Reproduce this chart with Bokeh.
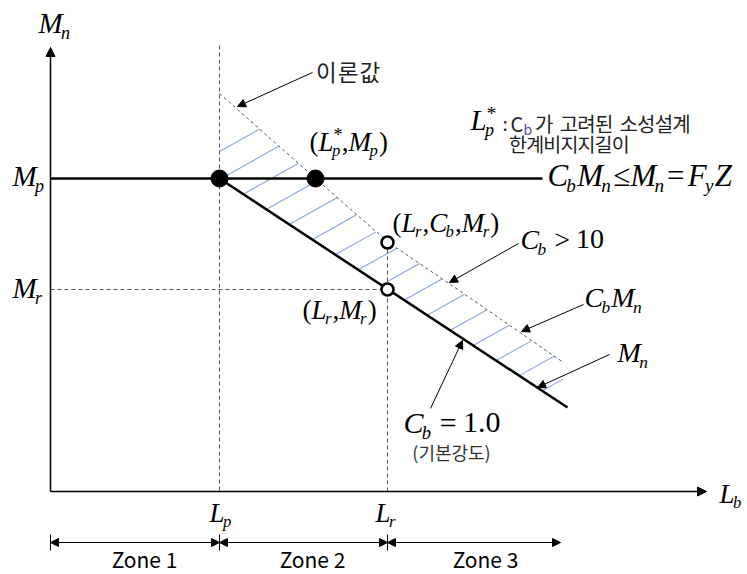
import numpy as np
from bokeh.plotting import figure
from bokeh.models import Range1d, Arrow, NormalHead
from bokeh.core.properties import value
from bokeh.embed import file_html
from bokeh.resources import INLINE

# ---- diagram key values (diagram units) ----
AXIS_X0, AXIS_Y0 = 50, 491
AXIS_X_END, AXIS_Y_END = 706, 47
LP, LP_STAR, LR = 219, 315, 387
MP, MR = 178, 289
MP_LINE_END = 542
MN_X = [219, 567]
MN_Y = [178, 407]
CBMN_X = [219, 315, 388, 450, 563]
CBMN_Y = [93, 178, 242, 284, 362]
LP_TOP = 45
ZONE_EDGES = [50, 219, 387, 560]
ZONE_LABELS = ["Zone 1", "Zone 2", "Zone 3"]
ZONE_LABEL_X = [144, 312, 485]
ZONE_Y = 542
HATCH_C = list(range(151, 580, 28))
HATCH_SLOPE = -0.56

SERIF = value("Liberation Serif")
SANS = value("Noto Sans CJK KR")

p = figure(width=747, height=574, output_backend="svg", toolbar_location=None,
           x_range=Range1d(0, 747), y_range=Range1d(574, 0), min_border=0)
p.axis.visible = False
p.grid.visible = False
p.outline_line_color = None
p.background_fill_color = "white"

# ---- hatch between Mn and CbMn ----
xs_f = np.arange(LP, MN_X[1] + 0.01, 0.25)
mn_f = np.interp(xs_f, MN_X, MN_Y)
cb_f = np.interp(xs_f, CBMN_X, CBMN_Y)
valid = xs_f <= CBMN_X[-1]
hx, hy = [], []
for c in HATCH_C:
    yy = c + HATCH_SLOPE * (xs_f - LP)
    inside = valid & (yy >= cb_f) & (yy <= mn_f)
    if inside.sum() < 2:
        continue
    xi = xs_f[inside]
    x0, x1 = xi.min(), xi.max()
    hx.append([x0, x1])
    hy.append([c + HATCH_SLOPE * (x0 - LP), c + HATCH_SLOPE * (x1 - LP)])
p.multi_line(hx, hy, line_color="#86a9d6", line_width=1.1)

# ---- axes ----
p.add_layout(Arrow(end=NormalHead(size=9, fill_color="black", line_color="black"),
                   x_start=AXIS_X0, y_start=AXIS_Y0, x_end=AXIS_X0, y_end=AXIS_Y_END,
                   line_width=1.5, line_color="black"))
p.add_layout(Arrow(end=NormalHead(size=9, fill_color="black", line_color="black"),
                   x_start=AXIS_X0, y_start=AXIS_Y0, x_end=AXIS_X_END, y_end=AXIS_Y0,
                   line_width=1.5, line_color="black"))

# ---- dashed guides ----
dash = "4 3"
p.line([LP, LP], [LP_TOP, AXIS_Y0], line_dash=dash, line_color="#555555", line_width=1)
p.line([LR, LR], [CBMN_Y[2], AXIS_Y0], line_dash=dash, line_color="#555555", line_width=1)
p.line([AXIS_X0, LR], [MR, MR], line_dash=dash, line_color="#555555", line_width=1)
p.line(CBMN_X, CBMN_Y, line_dash="3 3", line_color="#555555", line_width=1)

# ---- main lines ----
p.line([AXIS_X0, MP_LINE_END], [MP, MP], line_color="black", line_width=2.5)
p.line(MN_X, MN_Y, line_color="black", line_width=2.5)

# ---- points ----
p.scatter([LP, LP_STAR], [MP, MP], size=17, fill_color="black", line_color="black")
p.scatter([LR, LR], [CBMN_Y[2], MR], size=12, fill_color="white", line_color="black", line_width=2.5)

# ---- pointer arrows ----
def ptr(x0, y0, x1, y1):
    p.add_layout(Arrow(end=NormalHead(size=8, fill_color="black", line_color="black"),
                       x_start=x0, y_start=y0, x_end=x1, y_end=y1,
                       line_width=1, line_color="black"))

ptr(312, 72, 237, 106)
ptr(518, 243, 449, 282)
ptr(583, 304, 521, 331)
ptr(609, 354, 537, 387)
ptr(430, 408, 462, 340)

# ---- zone arrows ----
for a, b in zip(ZONE_EDGES[:-1], ZONE_EDGES[1:]):
    p.add_layout(Arrow(start=NormalHead(size=8, fill_color="black", line_color="black"),
                       end=NormalHead(size=8, fill_color="black", line_color="black"),
                       x_start=a, y_start=ZONE_Y, x_end=b, y_end=ZONE_Y,
                       line_width=1.2, line_color="black"))
for e in ZONE_EDGES[:-1]:
    p.line([e, e], [ZONE_Y - 8, ZONE_Y + 8], line_color="black", line_width=1)


def ktext(x, y, t, size, align="left", color="#222222"):
    # y is the baseline; draw with middle anchoring
    p.text([x], [y - 0.36 * size], text=[t], text_font=SANS, text_font_size=f"{size:.1f}px",
           text_align=align, text_baseline="middle", text_color=color)


def kspaced(x, y, t, size, adv, space, color="#222222"):
    # place syllables one by one with a fixed advance (wider Korean spacing)
    cx = x
    for ch in t:
        if ch == " ":
            cx += space
            continue
        ktext(cx + adv / 2, y, ch, size, align="center", color=color)
        cx += adv


for xc, lab in zip(ZONE_LABEL_X, ZONE_LABELS):
    ktext(xc, 566, lab, 21, align="center", color="black")

# ---- math text helper ----
W = {'M': 0.833, 'n': 0.5, 'p': 0.5, 'L': 0.556, 'C': 0.667, 'b': 0.5, 'r': 0.389,
     'F': 0.611, 'y': 0.444, 'Z': 0.556, '(': 0.333, ')': 0.333, ',': 0.25, '*': 0.5,
     '≤': 0.549, '=': 0.675, '>': 0.675, '1': 0.5, '.': 0.25, '0': 0.5, ' ': 0.25}

def tw(s, size):
    return sum(W.get(ch, 0.5) for ch in s) * size

def put(x, y, t, size, italic=True, color="black"):
    p.text([x], [y - 0.33 * size], text=[t], text_font=SERIF, text_font_size=f"{size:.1f}px",
           text_font_style="italic" if italic else "normal",
           text_align="left", text_baseline="middle", text_color=color)

def math(x, y, parts, size):
    cx = x
    ss = size * 0.62
    for part in parts:
        kind, t = part[0], part[1]
        gap = part[2] if len(part) > 2 else 0
        cx += gap * size
        if kind == 'i':
            put(cx, y, t, size)
            cx += tw(t, size)
        elif kind == 'u':
            put(cx, y, t, size, italic=False)
            cx += tw(t, size)
        elif kind == 's':
            put(cx - 0.06 * size, y + 0.22 * size, t, ss)
            cx += tw(t, ss) - 0.02 * size
        elif kind == 'ss':
            sup, sub = t
            put(cx, y - 0.36 * size, sup, ss * 1.1, italic=False)
            put(cx - 0.06 * size, y + 0.22 * size, sub, ss)
            cx += max(tw(sup, ss), tw(sub, ss))

math(38, 32, [('i', 'M'), ('s', 'n')], 29)
math(12, 185, [('i', 'M'), ('s', 'p')], 29)
math(12, 297, [('i', 'M'), ('s', 'r')], 29)
math(309, 150, [('u', '('), ('i', 'L'), ('ss', ('*', 'p')), ('u', ','), ('i', 'M'), ('s', 'p'), ('u', ')')], 27)
math(470, 129, [('i', 'L'), ('ss', ('*', 'p'))], 29)
math(547, 185, [('i', 'C'), ('s', 'b'), ('i', 'M'), ('s', 'n'), ('u', '≤', 0.05), ('i', 'M'),
                ('s', 'n'), ('u', '=', 0.05), ('i', 'F'), ('s', 'y'), ('i', 'Z')], 31)
math(392, 231, [('u', '('), ('i', 'L'), ('s', 'r'), ('u', ','), ('i', 'C'), ('s', 'b'), ('u', ','),
                ('i', 'M'), ('s', 'r'), ('u', ')')], 27)
math(520, 248, [('i', 'C'), ('s', 'b'), ('u', '>', 0.25), ('u', '10', 0.1)], 28)
math(302, 318, [('u', '('), ('i', 'L'), ('s', 'r'), ('u', ','), ('i', 'M'), ('s', 'r'), ('u', ')')], 27)
math(584, 306, [('i', 'C'), ('s', 'b'), ('i', 'M'), ('s', 'n')], 28)
math(617, 361, [('i', 'M'), ('s', 'n')], 28)
math(403, 432, [('i', 'C'), ('s', 'b'), ('u', '=', 0.25), ('u', '1.0', 0.1)], 30)
math(209, 521, [('i', 'L'), ('s', 'p')], 27)
math(375, 521, [('i', 'L'), ('s', 'r')], 27)
math(719, 502, [('i', 'L'), ('s', 'b')], 27)

# ---- Korean annotations ----
kspaced(315, 79, "이론값", 22.5, 21.7, 6)
ktext(502, 129, ":", 19)
ktext(510, 130, "C", 20)
ktext(523, 134, "b", 14, color="#5a3e9c")
kspaced(535, 130, "가 고려된 소성설계", 20, 17.6, 7.0)
kspaced(509, 150, "한계비지지길이", 19.5, 17.1, 6)
ktext(451, 458, "(기본강도)", 18, align="center", color="#333333")

open("out.html", "w").write(file_html(p, INLINE))
